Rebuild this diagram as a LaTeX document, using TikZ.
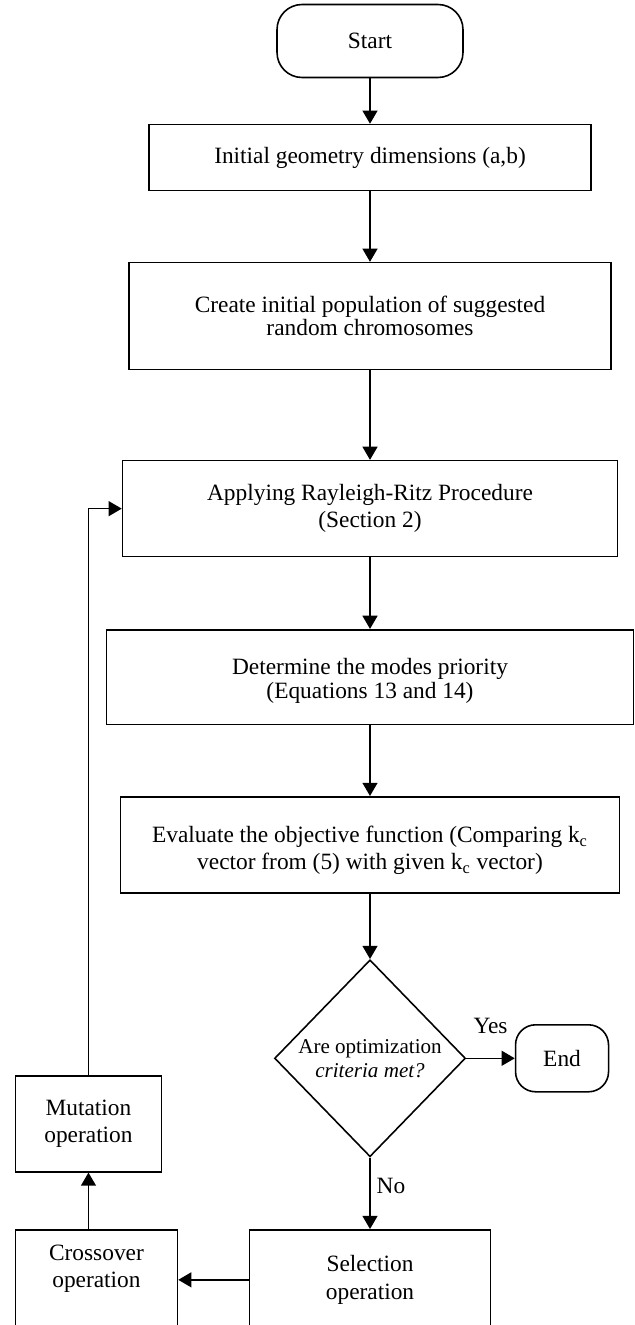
\documentclass[tikz,border=0pt]{standalone}
\usepackage{fontspec}
\setmainfont{Liberation Serif}
\usepackage{tikz}
\usetikzlibrary{arrows.meta,positioning,shapes.geometric}

\begin{document}
\begin{tikzpicture}[>={Triangle[length=7.5pt,width=8.5pt]},x=0.02cm,y=-0.02cm,line width=0.9pt]
  \tikzstyle{box}=[draw,align=center,font=\fontsize{13.3}{15.5}\selectfont]
  \tikzstyle{term}=[box,rounded corners=0.5cm]
  \useasboundingbox (0,0) rectangle (635,1325);
  \clip (0,0) rectangle (635,1325);
  % main column
  \node[term,minimum width=3.72cm,minimum height=1.46cm] (start) at (370,41) {Start};
  \node[box,below=0.91cm of start,minimum width=8.84cm,minimum height=1.32cm] (dims) {Initial geometry dimensions (a,b)};
  \node[box,below=1.41cm of dims,minimum width=9.64cm,minimum height=2.14cm,font=\fontsize{13.3}{12}\selectfont] (popn) {Create initial population of suggested\\random chromosomes};
  \node[box,below=1.79cm of popn,minimum width=9.9cm,minimum height=1.92cm] (ritz) {Applying Rayleigh-Ritz Procedure\\(Section 2)};
  \node[box,below=1.43cm of ritz,minimum width=10.54cm,minimum height=1.9cm,font=\fontsize{13.3}{13.5}\selectfont] (modes) {~\\Determine the modes priority\\(Equations 13 and 14)};
  \node[box,below=1.41cm of modes,minimum width=9.98cm,minimum height=1.92cm] (objfn) {~\\Evaluate the objective function (Comparing k\textsubscript{c}\\vector from (5) with given k\textsubscript{c} vector)};
  \node[draw,diamond,below=1.31cm of objfn,minimum width=3.82cm,minimum height=3.94cm,inner sep=0pt,align=center,font=\fontsize{12}{13.6}\selectfont] (crit) {Are optimization\\\textit{criteria met?}};
  \node[term,right=0.97cm of crit,rounded corners=0.4cm,minimum width=1.86cm,minimum height=1.34cm] (fin) {End};
  % GA loop
  \node[box,below=1.43cm of crit,minimum width=4.82cm,minimum height=2cm] (select) {Selection\\operation};
  \node[box,left=1.41cm of select,minimum width=3.24cm,minimum height=2cm] (cross) {Crossover\\operation\\~};
  \node[box,above right=1.13cm and 0mm of cross.north west,minimum width=2.92cm,minimum height=1.92cm] (mutate) {Mutation\\operation};
  \draw[->] (start)--(dims);
  \draw[->] (dims)--(popn);
  \draw[->] (popn)--(ritz);
  \draw[->] (ritz)--(modes);
  \draw[->] (modes)--(objfn);
  \draw[->] (objfn)--(crit);
  \draw[->] (crit)--node[above=10pt,font=\fontsize{13.3}{15.5}\selectfont]{Yes}(fin);
  \draw[->] (crit)--node[right,pos=0.4,font=\fontsize{13.3}{15.5}\selectfont]{No}(select);
  \draw[->] (select)--(cross);
  \draw[->] (cross.north -| mutate.south)--(mutate.south);
  \draw[->] (mutate.north) |- (ritz.west);
\end{tikzpicture}
\end{document}
